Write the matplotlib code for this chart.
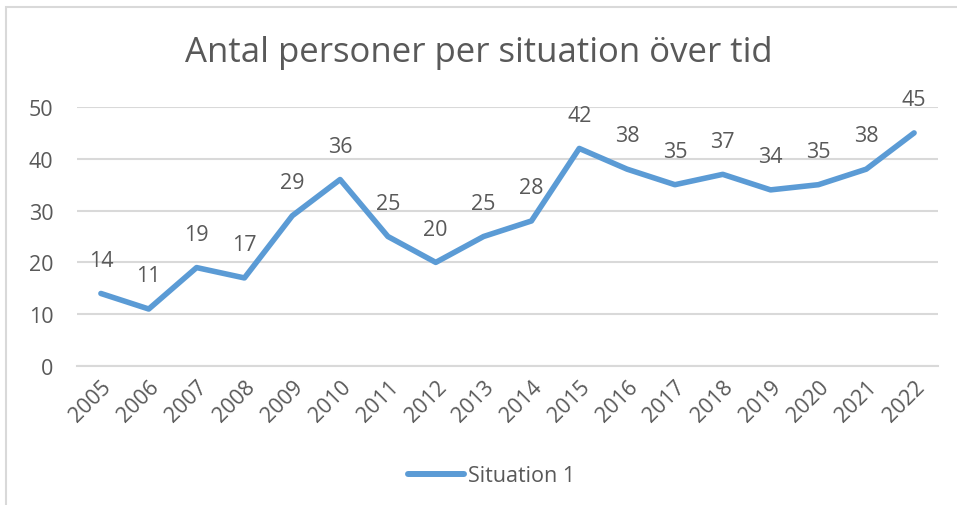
import matplotlib
matplotlib.use("Agg")
import matplotlib.pyplot as plt
from matplotlib.patches import Rectangle
from matplotlib.lines import Line2D

years = [str(y) for y in range(2005, 2023)]
values = [14, 11, 19, 17, 29, 36, 25, 20, 25, 28, 42, 38, 35, 37, 34, 35, 38, 45]
series_name = "Situation 1"
title = "Antal personer per situation över tid"

LINE = "#5B9BD5"
TXT = "#595959"
GRID = "#D9D9D9"

plt.rcParams['font.family'] = ['Open Sans', 'DejaVu Sans']

W, H = 957, 506
fig = plt.figure(figsize=(W / 100, H / 100), dpi=100)
fig.patch.set_facecolor("white")

# chart border
fig.patches.append(Rectangle((6 / W, -0.01), (W + 10) / W, 1 - 8 / H + 0.01,
                             transform=fig.transFigure, fill=False,
                             edgecolor=GRID, linewidth=1.5))

ax = fig.add_axes([77 / W, 1 - 367 / H, (938 - 77) / W, (367 - 108) / H])
x = list(range(len(years)))
ax.plot(x, values, color=LINE, linewidth=4.0, solid_joinstyle='round', solid_capstyle='round', zorder=3)
for xi, v in zip(x, values):
    ax.annotate(str(v), (xi, v), xytext=(0, 24), textcoords='offset points',
                ha='center', va='center', fontsize=15.5, color=TXT)

ax.set_xlim(-0.5, len(years) - 0.5)
ax.set_ylim(0, 50)
ax.set_yticks(range(0, 51, 10))
ax.set_xticks(x)
ax.set_xticklabels(years, rotation=45, ha='right', rotation_mode='anchor')
ax.tick_params(axis='both', length=0, colors=TXT, labelsize=15.5)
ax.tick_params(axis='y', pad=17)
ax.tick_params(axis='x', pad=7)
ax.grid(axis='y', color=GRID, linewidth=1.5)
ax.set_axisbelow(True)
for s in ['top', 'right', 'left']:
    ax.spines[s].set_visible(False)
ax.spines['bottom'].set_color(GRID)
ax.spines['bottom'].set_linewidth(1.5)

fig.text(0.5, 1 - 53 / H, title, ha='center', va='center', fontsize=25, color=TXT)

handle = Line2D([], [], color=LINE, linewidth=4.3, solid_capstyle='round')
fig.legend([handle], [series_name], loc='center', bbox_to_anchor=(0.514, 1 - 477 / H),
           frameon=False, fontsize=15.5, labelcolor=TXT, handlelength=2.6, handletextpad=0.2)

fig.savefig("out.png", dpi=100)
